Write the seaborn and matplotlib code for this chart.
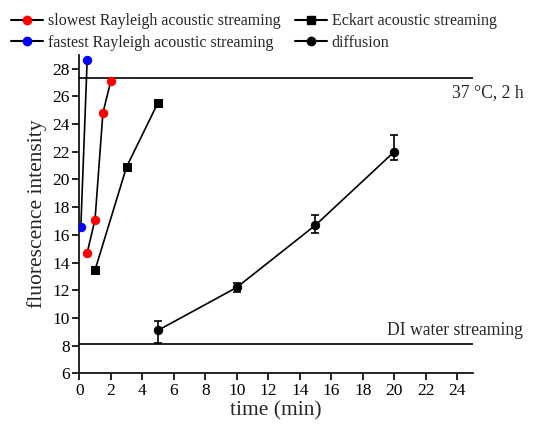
import numpy as np
import pandas as pd
import seaborn as sns
import matplotlib.pyplot as plt
from matplotlib.lines import Line2D

# data
slow_t = [0.5, 1.0, 1.5, 2.0]
slow_y = [14.7, 17.1, 24.8, 27.1]
fast_t = [0.1, 0.5]
fast_y = [16.6, 28.6]
eckart_t = [1, 3, 5]
eckart_y = [13.45, 20.9, 25.55]
diff_t = [5, 10, 15, 20]
diff_y = [9.1, 12.2, 16.7, 22.0]
diff_err_lo = [0.9, 0.35, 0.6, 0.6]
diff_err_hi = [0.65, 0.35, 0.75, 1.2]
ref_37c = 27.35
ref_di = 8.1

sns.set_style("ticks")
plt.rcParams['font.family'] = ['Liberation Serif', 'DejaVu Serif']
plt.rcParams['xtick.major.size'] = 5
plt.rcParams['ytick.major.size'] = 5

fig = plt.figure(figsize=(5.43, 4.29), dpi=100)
ax = fig.add_axes([0.146, 0.130, 0.725, 0.742])

df = pd.concat([
    pd.DataFrame({'t': slow_t, 'y': slow_y, 's': 'slow'}),
    pd.DataFrame({'t': fast_t, 'y': fast_y, 's': 'fast'}),
    pd.DataFrame({'t': eckart_t, 'y': eckart_y, 's': 'eckart'}),
    pd.DataFrame({'t': diff_t, 'y': diff_y, 's': 'diff'}),
])

styles = {
    'slow': dict(marker='o', mfc='red', mec='red'),
    'fast': dict(marker='o', mfc='blue', mec='blue'),
    'eckart': dict(marker='s', mfc='black', mec='black'),
    'diff': dict(marker='o', mfc='black', mec='black'),
}
for name, st in styles.items():
    sub = df[df['s'] == name]
    sns.lineplot(data=sub, x='t', y='y', ax=ax, color='black', lw=1.2,
                 marker=st['marker'], markerfacecolor=st['mfc'],
                 markeredgecolor=st['mec'], markersize=6, zorder=3)

ax.errorbar(diff_t, diff_y, yerr=[diff_err_lo, diff_err_hi], fmt='none',
            ecolor='black', elinewidth=1.2, capsize=3, capthick=1.2, zorder=2)

ax.axhline(ref_37c, color='black', lw=1.2, zorder=1)
ax.axhline(ref_di, color='black', lw=1.2, zorder=1)
ax.text(28.2, 26.3, '37 °C, 2 h', ha='right', va='center', fontsize=12.7, clip_on=False)
ax.text(28.2, 9.1, 'DI water streaming', ha='right', va='center', fontsize=12.7, clip_on=False)

ax.set_xlim(0, 25)
ax.set_ylim(6, 29)
ax.set_xticks(np.arange(0, 25, 2))
ax.set_yticks(np.arange(6, 29, 2))
ax.tick_params(labelsize=12.5, width=1.2, colors='black', pad=2)
ax.set_xlabel('time (min)', fontsize=15.5, labelpad=2)
ax.set_ylabel('fluorescence intensity', fontsize=15.5, labelpad=4)
for side in ['top', 'right']:
    ax.spines[side].set_visible(False)
for side in ['left', 'bottom']:
    ax.spines[side].set_linewidth(1.2)
    ax.spines[side].set_color('black')

handles = [
    Line2D([], [], color='black', marker='o', mfc='red', mec='red', markersize=6),
    Line2D([], [], color='black', marker='o', mfc='blue', mec='blue', markersize=6),
    Line2D([], [], color='black', marker='s', mfc='black', mec='black', markersize=6),
    Line2D([], [], color='black', marker='o', mfc='black', mec='black', markersize=6),
]
labels = ['slowest Rayleigh acoustic streaming', 'fastest Rayleigh acoustic streaming',
          'Eckart acoustic streaming', 'diffusion']
fig.legend(handles, labels, ncol=2, loc='upper left', bbox_to_anchor=(0.0, 0.995),
           frameon=False, fontsize=11.5, handlelength=2.0, handletextpad=0.3,
           columnspacing=0.9, labelspacing=0.35, borderaxespad=0.3)

fig.savefig('out.png', dpi=100)
